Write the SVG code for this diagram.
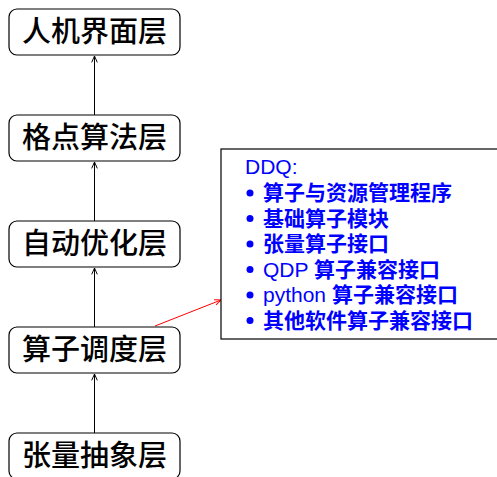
<svg xmlns="http://www.w3.org/2000/svg" width="497" height="477" viewBox="0 0 497 477">
<style>
.node rect{fill:#fff;stroke:#000;stroke-width:1.2}
.node text{font-family:"Liberation Sans","Noto Sans CJK SC",sans-serif;font-size:29px;font-weight:500;fill:#000;text-anchor:middle}
.ddq{font-family:"Liberation Sans","Noto Sans CJK SC",sans-serif;font-size:21px;fill:#0000ff}
.cjk{font-weight:bold}
.conn{stroke:#000;stroke-width:1;fill:none}
.red{stroke:#ff0000;stroke-width:1;fill:none}
</style>
<defs>
<marker id="ah" viewBox="0 0 10 10" refX="9" refY="5" markerWidth="8" markerHeight="8" orient="auto" markerUnits="userSpaceOnUse">
<path d="M1,1.5 L9,5 L1,8.5" fill="none" stroke="#000" stroke-width="1.2"/>
</marker>
<marker id="ahr" viewBox="0 0 10 10" refX="9" refY="5" markerWidth="8" markerHeight="8" orient="auto" markerUnits="userSpaceOnUse">
<path d="M1,1.5 L9,5 L1,8.5" fill="none" stroke="#ff0000" stroke-width="1.2"/>
</marker>
</defs>
<g id="connectors">
<line class="conn" x1="94.5" y1="115" x2="94.5" y2="56" marker-end="url(#ah)"/>
<line class="conn" x1="94.5" y1="221" x2="94.5" y2="162" marker-end="url(#ah)"/>
<line class="conn" x1="94.5" y1="327" x2="94.5" y2="268" marker-end="url(#ah)"/>
<line class="conn" x1="94.5" y1="433" x2="94.5" y2="374" marker-end="url(#ah)"/>
<line class="red" x1="155" y1="326" x2="221" y2="300" marker-end="url(#ahr)"/>
</g>
<g id="n1" class="node"><rect x="9" y="9" width="171" height="46" rx="8"/><text x="94.5" y="42">人机界面层</text></g>
<g id="n2" class="node"><rect x="9" y="115" width="171" height="46" rx="8"/><text x="94.5" y="148">格点算法层</text></g>
<g id="n3" class="node"><rect x="9" y="221" width="171" height="46" rx="8"/><text x="94.5" y="254">自动优化层</text></g>
<g id="n4" class="node"><rect x="9" y="327" width="171" height="46" rx="8"/><text x="94.5" y="360">算子调度层</text></g>
<g id="n5" class="node"><rect x="9" y="433" width="171" height="46" rx="8"/><text x="94.5" y="466">张量抽象层</text></g>
<g id="ddq">
<rect x="221" y="149" width="290" height="190" fill="#fff" stroke="#000" stroke-width="1.2"/>
<text class="ddq" x="245" y="174">DDQ:</text>
<g fill="#0000ff">
<circle cx="250" cy="193" r="3.5"/>
<circle cx="250" cy="218.5" r="3.5"/>
<circle cx="250" cy="244" r="3.5"/>
<circle cx="250" cy="269.5" r="3.5"/>
<circle cx="250" cy="295" r="3.5"/>
<circle cx="250" cy="320.5" r="3.5"/>
</g>
<text class="ddq cjk" x="263" y="200">算子与资源管理程序</text>
<text class="ddq cjk" x="263" y="225.5">基础算子模块</text>
<text class="ddq cjk" x="263" y="251">张量算子接口</text>
<text class="ddq" x="263" y="276.5">QDP <tspan class="cjk">算子兼容接口</tspan></text>
<text class="ddq" x="263" y="302">python <tspan class="cjk">算子兼容接口</tspan></text>
<text class="ddq cjk" x="263" y="327.5">其他软件算子兼容接口</text>
</g>
</svg>
